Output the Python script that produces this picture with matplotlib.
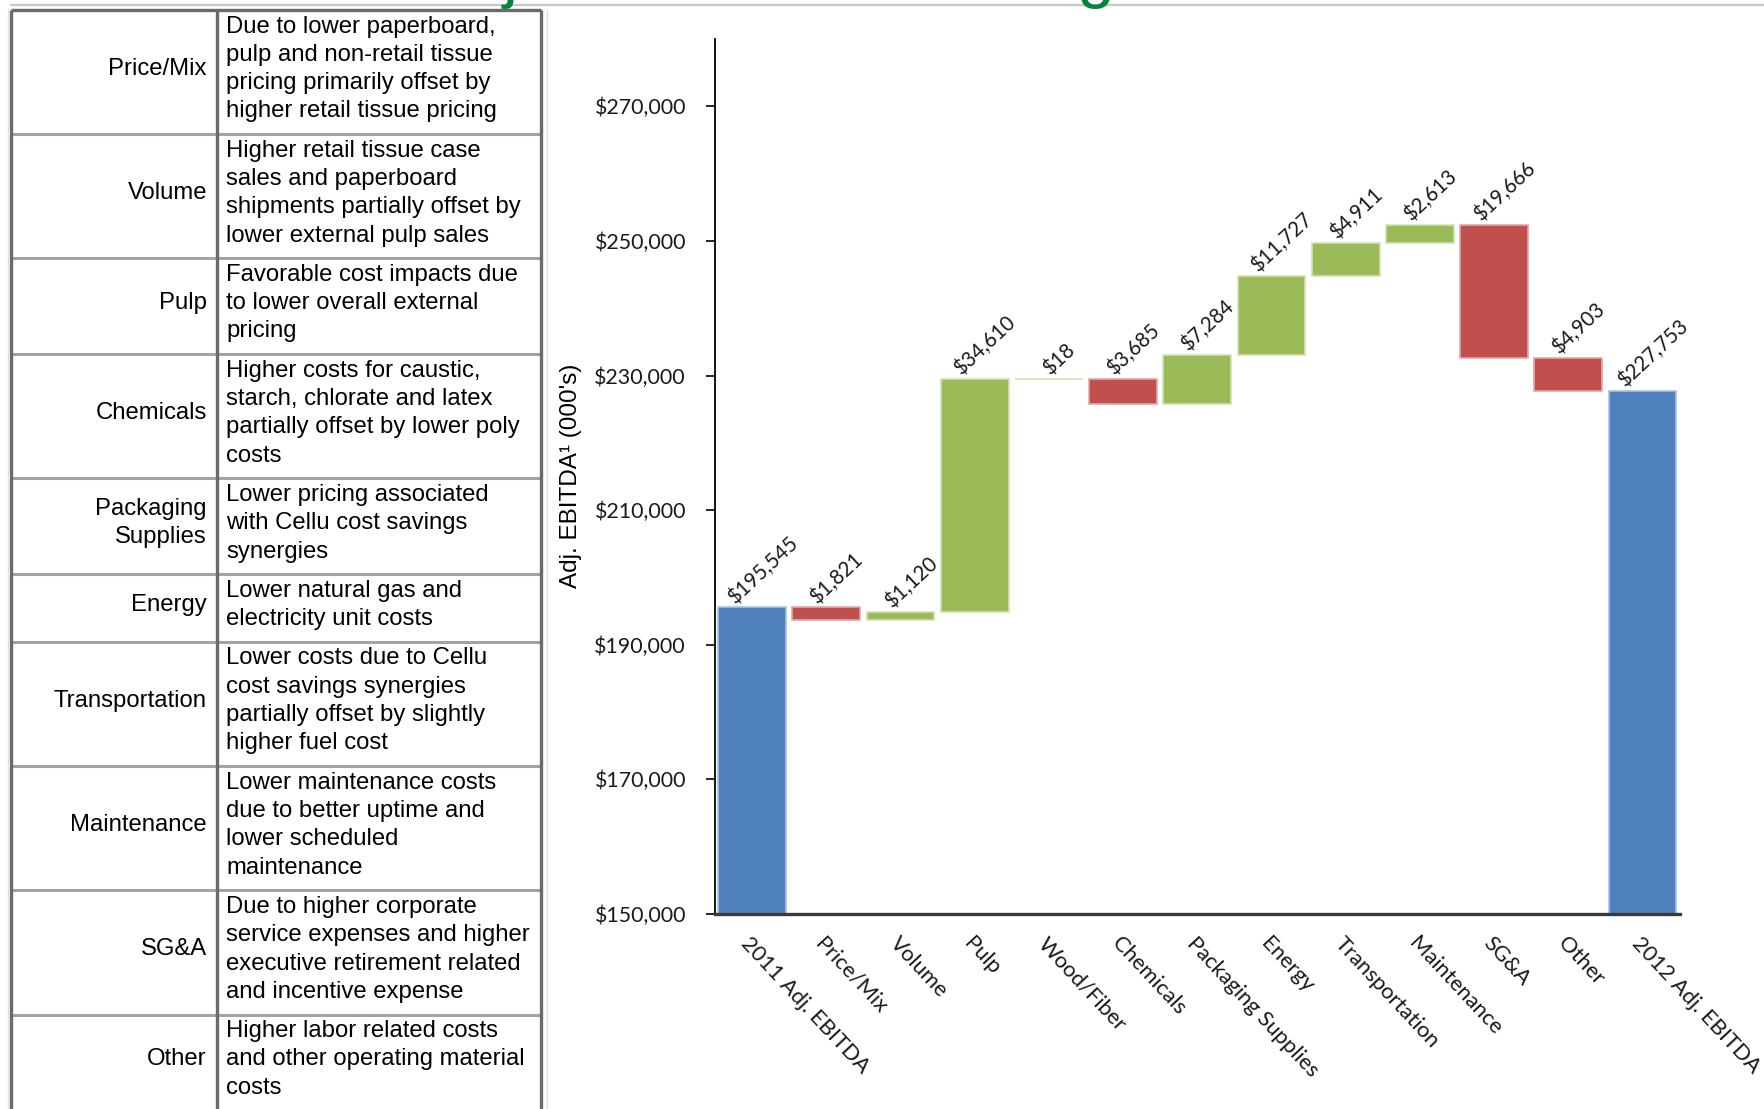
import numpy as np
import matplotlib.pyplot as plt
from matplotlib.ticker import FuncFormatter

# waterfall data (000's)
categories = ['2011 Adj. EBITDA', 'Price/Mix', 'Volume', 'Pulp', 'Wood/Fiber',
              'Chemicals', 'Packaging Supplies', 'Energy', 'Transportation',
              'Maintenance', 'SG&A', 'Other', '2012 Adj. EBITDA']
start_total = 195545
changes = [-1821, 1120, 34610, 18, -3685, 7284, 11727, 4911, 2613, -19666, -4903]
end_total = 227753
y_ticks = [150000, 170000, 190000, 210000, 230000, 250000, 270000]

# explanation table
row_labels = ['Price/Mix', 'Volume', 'Pulp', 'Chemicals', 'Packaging\nSupplies',
              'Energy', 'Transportation', 'Maintenance', 'SG&A', 'Other']
row_notes = [
    ['Due to lower paperboard,', 'pulp and non-retail tissue',
     'pricing primarily offset by', 'higher retail tissue pricing'],
    ['Higher retail tissue case', 'sales and paperboard',
     'shipments partially offset by', 'lower external pulp sales'],
    ['Favorable cost impacts due', 'to lower overall external', 'pricing'],
    ['Higher costs for caustic,', 'starch, chlorate and latex',
     'partially offset by lower poly', 'costs'],
    ['Lower pricing associated', 'with Cellu cost savings', 'synergies'],
    ['Lower natural gas and', 'electricity unit costs'],
    ['Lower costs due to Cellu', 'cost savings synergies',
     'partially offset by slightly', 'higher fuel cost'],
    ['Lower maintenance costs', 'due to better uptime and',
     'lower scheduled', 'maintenance'],
    ['Due to higher corporate', 'service expenses and higher',
     'executive retirement related', 'and incentive expense'],
    ['Higher labor related costs', 'and other operating material', 'costs'],
]

BLUE = '#4F81BD'
RED = '#C0504D'
GREEN = '#9BBB59'
W, H = 1765, 1109

fig = plt.figure(figsize=(W / 100, H / 100), dpi=100)

# pixel-space layer for the table and the header rule
bg = fig.add_axes([0, 0, 1, 1])
bg.set_xlim(0, W)
bg.set_ylim(H, 0)
bg.axis('off')

bg.plot([10, W], [5, 5], color='#c8c8c8', lw=1.6, solid_capstyle='butt')
fig.text(421 / W, 1 + 5 / H, 'Adjusted EBITDA Bridge', fontsize=48.3,
         color='#00853F', family='Liberation Sans', va='baseline')

tx0, tx1, tx2 = 11, 217, 541
top = 10
line_h = 28.3
font = dict(family='Liberation Sans', fontsize=17.2, color='black')
y = top
edges = [top]
for label, notes in zip(row_labels, row_notes):
    n = len(notes)
    base0 = y + 22.5
    bases = [base0 + k * line_h for k in range(n)]
    for b, s in zip(bases, notes):
        bg.text(tx1 + 9, b, s, ha='left', va='baseline', **font)
    sub = label.split('\n')
    mid = np.mean(bases)
    off = (len(sub) - 1) / 2
    for k, s in enumerate(sub):
        bg.text(tx1 - 10, mid + (k - off) * line_h, s, ha='right', va='baseline', **font)
    y = y + 11.0 + line_h * n
    edges.append(y)

for e in edges[1:]:
    bg.plot([tx0, tx2], [e, e], color='#a3a3a3', lw=2.2, solid_capstyle='butt')
bg.plot([tx0, tx2], [top, top], color='#6a6a6a', lw=2.4, solid_capstyle='butt')
for x in (tx0, tx1, tx2):
    bg.plot([x, x], [top, H + 5], color='#6a6a6a', lw=2.4, solid_capstyle='butt')
bg.plot([tx0 - 3, tx0 - 3], [top, H], color='#e2e2e2', lw=1)
bg.plot([tx2 + 6, tx2 + 6], [top, H], color='#e2e2e2', lw=1)

# waterfall chart
ax = fig.add_axes([715 / W, 1 - 914 / H, 964.6 / W, 875 / H])
ax.patch.set_visible(False)

levels = start_total + np.cumsum(changes)
prev = np.concatenate([[start_total], levels[:-1]])
bottoms = [0] + list(np.minimum(prev, levels)) + [0]
heights = [start_total] + [abs(c) for c in changes] + [end_total]
colors = [BLUE] + [GREEN if c > 0 else RED for c in changes] + [BLUE]
edge_cols = {BLUE: '#a8c0de', GREEN: '#d3e2b5', RED: '#e2a9a7'}
tops = [start_total] + list(np.maximum(prev, levels)) + [end_total]
values = [start_total] + [abs(c) for c in changes] + [end_total]

x = np.arange(len(categories))
ax.bar(x, heights, bottom=bottoms, width=0.915, color=colors,
       edgecolor=[edge_cols[c] for c in colors], linewidth=1.2)

for xi, t, v in zip(x, tops, values):
    ax.text(xi + 0.14, t, f'${v:,}', rotation=43, ha='center', va='bottom',
            family='Lato', fontsize=14.8, color='#1a1a1a')

ax.set_xlim(-0.5, len(categories) - 0.5)
ax.set_ylim(150000, 280000)
ax.set_yticks(y_ticks)
ax.yaxis.set_major_formatter(FuncFormatter(lambda v, p: f'${v:,.0f}'))
ax.tick_params(axis='y', length=6.5, width=1.2, pad=14.4, labelsize=15.4,
               colors='black')
for lab in ax.get_yticklabels():
    lab.set_family('Lato')
    lab.set_color('#1a1a1a')

ax.set_xticks(x)
ax.set_xticklabels(categories, rotation=-47, ha='left', va='top',
                   rotation_mode='anchor', family='Lato', fontsize=15.8,
                   color='#1a1a1a')
ax.tick_params(axis='x', length=0, pad=14)

for s in ('top', 'right'):
    ax.spines[s].set_visible(False)
ax.spines['left'].set_linewidth(1.3)
ax.spines['left'].set_color('black')
ax.spines['bottom'].set_linewidth(2.4)
ax.spines['bottom'].set_color('#3a3a3a')

fig.text(571 / W, 1 - 476 / H, "Adj. EBITDA¹ (000's)", rotation=90,
         ha='center', va='center', family='Liberation Sans', fontsize=17.5)

fig.savefig('out.png', dpi=100)
